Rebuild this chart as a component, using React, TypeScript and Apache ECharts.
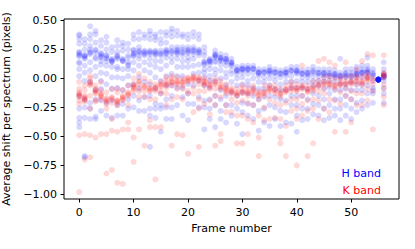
import React, { useEffect, useRef } from "react";
import * as echarts from "echarts";

const xTicks = [0, 10, 20, 30, 40, 50];
const yTicks = [-1, -0.75, -0.5, -0.25, 0, 0.25, 0.5];

// H band shifts per frame (index = frame number)
const hBand: number[][] = [
  [.38,.37,.34,.30,.23,.22,.21,.2,.19,.14,.13,.08,.02,-.15,-.26,-.34,-.38,-.42],
  [.34,.30,.25,.2,.19,.2,.18,.17,.11,.05,-.02,-.18,-.25,-.34,-.67,-.68],
  [.45,.38,.34,.28,.25,.23,.22,.21,.14,.07,-.03,-.21,-.26,-.35],
  [.41,.38,.31,.25,.24,.22,.18,.17,.1,.02,-.1,-.18,-.33,-.35],
  [.33,.28,.22,.21,.2,.19,.18,.15,.12,.05,-.02,-.09,-.19,-.28],
  [.36,.31,.25,.2,.2,.18,.17,.15,.11,.04,-.05,-.21,-.32],
  [.27,.23,.17,.16,.15,.15,.14,.1,.01,-.09,-.19,-.34],
  [.33,.28,.23,.2,.19,.18,.17,.1,.08,.01,-.08,-.23,-.32],
  [.31,.28,.24,.17,.16,.15,.15,.08,0,-.1,-.22,-.32],
  [.3,.25,.2,.18,.14,.12,.11,.08,.02,-.06,-.18,-.26],
  [.38,.34,.25,.24,.22,.21,.2,.19,.14,.07,-.05,-.15,-.25],
  [.4,.34,.27,.24,.23,.22,.2,.17,.11,.01,-.09,-.19,-.28],
  [.38,.35,.24,.23,.22,.21,.2,.14,.07,-.03,-.16,-.28],
  [.41,.38,.34,.24,.23,.22,.21,.17,.12,.05,-.05,-.15,-.26,-.32,-.59],
  [.38,.36,.33,.24,.23,.22,.21,.2,.15,.1,.01,-.09,-.22,-.26,-.34],
  [.4,.34,.3,.24,.22,.21,.2,.15,.08,-.02,-.13,-.23,-.26,-.46],
  [.4,.37,.31,.25,.24,.23,.22,.21,.18,.11,.02,-.06,-.18,-.25,-.35],
  [.43,.4,.36,.27,.24,.23,.22,.18,.14,.04,-.06,-.15,-.25,-.35],
  [.41,.37,.27,.25,.24,.23,.22,.21,.17,.1,.02,-.08,-.23],
  [.38,.36,.27,.25,.23,.22,.2,.15,.1,.02,-.08,-.16,-.32],
  [.38,.34,.27,.25,.24,.23,.22,.18,.15,.1,-.05,-.13,-.22,-.36],
  [.4,.36,.27,.25,.24,.23,.21,.17,.11,.04,-.06,-.22],
  [.38,.34,.25,.24,.23,.22,.2,.12,.05,-.02,-.16,-.25],
  [.27,.23,.2,.15,.14,.13,.12,.08,.05,.01,-.06,-.19,-.25,-.44],
  [.17,.16,.15,.15,.14,.12,.08,.02,-.02,-.08,-.18,-.26,-.35],
  [.24,.21,.2,.2,.19,.18,.15,.14,.08,.04,-.02,-.15,-.23,-.42],
  [.21,.18,.18,.17,.16,.15,.12,.07,0,-.1,-.18,-.28,-.35],
  [.2,.17,.17,.16,.15,.14,.11,.05,.01,-.06,-.15,-.23,-.38],
  [.17,.14,.14,.13,.12,.11,.07,.04,-.03,-.12,-.23,-.32],
  [.1,.08,.07,.07,.06,.04,0,-.06,-.15,-.26,-.39],
  [.11,.09,.08,.08,.07,.05,.01,-.05,-.12,-.21,-.29,-.48],
  [.11,.09,.08,.08,.07,.04,-.02,-.06,-.13,-.22,-.32],
  [.11,.09,.08,.08,.05,0,-.08,-.15,-.23,-.35],
  [.08,.06,.05,.05,.04,.02,-.03,-.09,-.18,-.28,-.45],
  [.08,.06,.05,.05,.01,-.03,-.09,-.16,-.26,-.38],
  [.1,.07,.07,.06,.05,.04,0,-.06,-.15,-.23,-.41],
  [.08,.06,.05,.05,.02,-.02,-.09,-.16,-.25,-.35],
  [.07,.05,.04,.04,.01,-.05,-.1,-.18,-.28,-.41],
  [.08,.06,.05,.05,.04,.02,-.03,-.1,-.19,-.29,-.38],
  [.1,.07,.07,.06,.02,-.03,-.08,-.15,-.23,-.39],
  [.1,.07,.07,.06,.05,.04,-.02,-.08,-.15,-.23,-.32,-.46],
  [.07,.05,.04,.04,.01,-.03,-.08,-.15,-.26,-.36],
  [.08,.05,.05,.04,.03,.01,-.03,-.09,-.18,-.26,-.35],
  [.1,.07,.06,.05,.02,-.02,-.06,-.13,-.22,-.31],
  [.08,.05,.05,.04,.02,-.02,-.06,-.15,-.23,-.32],
  [.08,.05,.05,.04,.03,.01,-.03,-.09,-.18,-.26,-.36],
  [.08,.05,.04,.03,.02,-.02,-.08,-.13,-.23,-.34],
  [.07,.04,.04,.03,.02,.01,-.03,-.1,-.18,-.26,-.32],
  [.17,.05,.03,.02,.02,0,-.05,-.1,-.18,-.26,-.36],
  [.08,.05,.04,.03,.02,.01,-.05,-.09,-.15,-.23,-.32],
  [.08,.05,.03,.02,.01,-.03,-.1,-.18,-.26,-.35],
  [.1,.07,.05,.04,.04,.03,.01,-.05,-.1,-.21,-.29],
  [.11,.08,.06,.05,.05,.04,.01,-.05,-.1,-.19,-.26],
  [.18,.11,.08,.07,.06,.05,.05,.01,-.06,-.13,-.23],
  [.08,.05,.04,.03,.02,-.02,-.08,-.1,-.13,-.21],
  [-.01,-.01,-.01,-.01,-.01,-.01,-.01,-.01,-.01,-.01,-.01,-.01,-.01,-.01],
  [.14,.08,.04,.03,.02,.02,.01,.01,-.02,-.08,-.13,-.21],
];

// K band shifts per frame (index = frame number)
const kBand: number[][] = [
  [-.03,-.09,-.12,-.13,-.14,-.15,-.16,-.19,-.22,-.49,-.98],
  [-.06,-.1,-.15,-.16,-.17,-.18,-.19,-.2,-.48,-.7],
  [.02,0,-.03,-.04,-.05,-.06,-.15,-.26,-.49,-.68],
  [-.06,-.09,-.1,-.11,-.12,-.13,-.19,-.2,-.51],
  [-.03,-.1,-.13,-.14,-.15,-.16,-.18,-.48],
  [-.12,-.17,-.18,-.19,-.2,-.22,-.26,-.48,-.82],
  [-.09,-.16,-.17,-.18,-.21,-.35,-.45,-.79],
  [-.09,-.12,-.19,-.19,-.2,-.21,-.23,-.46,-.9],
  [-.1,-.15,-.16,-.17,-.18,-.19,-.44,-.91],
  [-.06,-.12,-.13,-.14,-.15,-.23,-.38,-.44],
  [0,-.05,-.06,-.07,-.08,-.09,-.11,-.51,-.72],
  [.04,-.02,-.03,-.05,-.08,-.11,-.16,-.44],
  [0,-.06,-.07,-.08,-.11,-.16,-.58],
  [-.03,-.08,-.09,-.1,-.11,-.18,-.36,-.42],
  [-.05,-.07,-.08,-.09,-.11,-.18,-.42,-.87],
  [-.03,-.05,-.06,-.07,-.11,-.13,-.42],
  [.01,-.02,-.04,-.05,-.06,-.08,-.13,-.23],
  [.02,0,-.02,-.03,-.04,-.06,-.18,-.58],
  [.01,-.02,-.03,-.04,-.05,-.09,-.16,-.48],
  [0,-.02,-.03,-.04,-.06,-.09,-.18,-.49],
  [.01,0,-.01,-.02,-.03,-.11,-.13,-.65],
  [.02,.01,0,-.01,-.02,-.08,-.13,-.29],
  [.01,0,-.01,-.02,-.05,-.11,-.18,-.26,-.59],
  [0,-.02,-.03,-.04,-.05,-.06,-.11,-.22],
  [-.02,-.05,-.06,-.07,-.09,-.19,-.31],
  [0,-.03,-.04,-.05,-.09,-.15,-.23,-.58],
  [-.02,-.05,-.07,-.08,-.09,-.16,-.48,-.54],
  [-.05,-.08,-.09,-.1,-.11,-.13,-.23,-.29],
  [-.08,-.1,-.11,-.12,-.13,-.18,-.29],
  [-.09,-.12,-.13,-.14,-.15,-.21,-.32,-.56],
  [-.06,-.09,-.11,-.12,-.13,-.19,-.32,-.56],
  [-.08,-.11,-.12,-.13,-.15,-.21,-.35,-.48],
  [-.06,-.09,-.1,-.11,-.13,-.23,-.38],
  [-.11,-.13,-.14,-.15,-.18,-.32,-.51,-.67],
  [-.06,-.11,-.12,-.13,-.15,-.25,-.36],
  [-.06,-.08,-.09,-.1,-.11,-.18,-.35],
  [-.06,-.09,-.1,-.11,-.13,-.21,-.34],
  [-.09,-.12,-.13,-.14,-.16,-.23,-.35,-.51,-.56],
  [-.06,-.09,-.1,-.11,-.12,-.21,-.41,-.67],
  [-.03,-.06,-.08,-.09,-.11,-.18,-.28],
  [-.05,-.08,-.09,-.1,-.11,-.18,-.26,-.35,-.75],
  [.11,-.06,-.07,-.08,-.09,-.15,-.22,-.32],
  [-.06,-.09,-.1,-.11,-.12,-.19,-.28,-.67],
  [-.03,-.07,-.08,-.09,-.11,-.18,-.26,-.56],
  [.15,-.02,-.05,-.06,-.07,-.11,-.19,-.35],
  [.17,.01,-.03,-.04,-.05,-.08,-.13,-.26],
  [.14,.02,-.02,-.04,-.05,-.06,-.18,-.29],
  [.11,0,-.05,-.06,-.07,-.09,-.19,-.46],
  [.01,-.02,-.04,-.05,-.06,-.12,-.22],
  [.14,.01,-.03,-.04,-.05,-.08,-.15,-.46],
  [.02,-.02,-.03,-.04,-.05,-.11,-.18,-.38],
  [.08,.02,0,-.02,-.03,-.05,-.13,-.23],
  [.15,.02,-.02,-.03,-.04,-.06,-.13,-.23],
  [.21,.04,.02,.01,0,-.01,-.03,-.09,-.19],
  [.2,0,-.02,-.05,-.11,-.44],
  [],
  [.2,.05,.04,.03,.02,.01,-.05,-.09,-.16,-.23],
];

const seriesNames = ["H band", "K band"];

function toPoints(band: number[][]): number[][] {
  const pts: number[][] = [];
  band.forEach((vals, frame) => vals.forEach((v) => pts.push([frame, v])));
  return pts;
}

const FONT = "DejaVu Sans";

export default function App() {
  const ref = useRef<HTMLDivElement>(null);
  useEffect(() => {
    if (!ref.current) return;
    const chart = echarts.init(ref.current, null, { renderer: "svg" });
    chart.setOption({
      animation: false,
      backgroundColor: "#ffffff",
      grid: {
        left: 64,
        top: 19,
        width: 335,
        height: 180,
        containLabel: false,
        outerBoundsMode: "none",
        show: true,
        borderColor: "#000",
        borderWidth: 1,
        backgroundColor: "transparent",
      },
      xAxis: {
        type: "value",
        min: -2.8,
        max: 58.8,
        name: "Frame number",
        nameLocation: "middle",
        nameGap: 23,
        nameTextStyle: { fontFamily: FONT, fontSize: 11, color: "#000" },
        axisLine: { show: false, onZero: false },
        splitLine: { show: false },
        axisTick: {
          show: true,
          inside: false,
          length: 3.5,
          lineStyle: { color: "#000", width: 1 },
          customValues: xTicks,
        },
        axisLabel: {
          fontFamily: FONT,
          fontSize: 11,
          color: "#000",
          margin: 8,
          customValues: xTicks,
          formatter: (v: number) => String(v),
        },
      },
      yAxis: {
        type: "value",
        min: -1.04,
        max: 0.513,
        name: "Average shift per spectrum (pixels)",
        nameLocation: "middle",
        nameGap: 44,
        nameTextStyle: { fontFamily: FONT, fontSize: 11, color: "#000" },
        axisLine: { show: false, onZero: false },
        splitLine: { show: false },
        axisTick: {
          show: true,
          inside: false,
          length: 3.5,
          lineStyle: { color: "#000", width: 1 },
          customValues: yTicks,
        },
        axisLabel: {
          fontFamily: FONT,
          fontSize: 11,
          color: "#000",
          margin: 7,
          customValues: yTicks,
          formatter: (v: number) => v.toFixed(2).replace("-", "\u2212"),
        },
      },
      series: [
        {
          name: seriesNames[0],
          type: "scatter",
          symbol: "circle",
          symbolSize: 6,
          data: toPoints(hBand),
          itemStyle: { color: "rgba(0,0,255,0.19)" },
          silent: true,
        },
        {
          name: seriesNames[1],
          type: "scatter",
          symbol: "circle",
          symbolSize: 6,
          data: toPoints(kBand),
          itemStyle: { color: "rgba(255,0,0,0.19)" },
          silent: true,
        },
      ],
      graphic: [
        {
          type: "text",
          right: 34,
          top: 168,
          style: { text: seriesNames[0], fill: "#0000ff", font: `11px "${FONT}"` },
        },
        {
          type: "text",
          right: 34,
          top: 185,
          style: { text: seriesNames[1], fill: "#ff0000", font: `11px "${FONT}"` },
        },
      ],
    });
    return () => chart.dispose();
  }, []);
  return (
    <div
      ref={ref}
      style={{ position: "fixed", left: 0, top: 0, width: 415, height: 249, background: "#fff" }}
    />
  );
}
